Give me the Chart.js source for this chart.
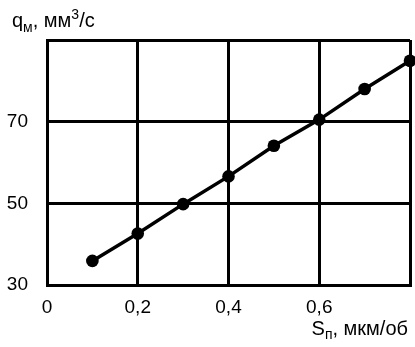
<!DOCTYPE html>
<html>
<head>
<meta charset="utf-8">
<script src="https://cdn.jsdelivr.net/npm/chart.js@4"></script>
<style>
    html, body { margin: 0; padding: 0; background: #fff; overflow: hidden; }
    #feed { display: block; }
</style>
</head>
<body>
<canvas id="feed" width="421" height="347" style="width:421px;height:347px"></canvas>
<script>
const podacha = [0.1, 0.2, 0.3, 0.4, 0.5, 0.6, 0.7, 0.8];
const proizv = [35.9, 42.6, 49.8, 56.6, 64.1, 70.5, 78.0, 84.9];
const xTicks = [0, 0.2, 0.4, 0.6];
const yTicks = [30, 50, 70];

const FONT = "'Liberation Sans', Arial, sans-serif";

// axis titles with sub/superscripts
function partsWidth(ctx, parts) {
    let w = 0;
    for (const p of parts) {
        ctx.font = (p.small ? 14 : 20) + "px " + FONT;
        w += ctx.measureText(p.t).width;
    }
    return w;
}

function drawParts(ctx, x, y, parts) {
    for (const p of parts) {
        ctx.font = (p.small ? 14 : 20) + "px " + FONT;
        ctx.fillText(p.t, x, y + (p.dy || 0));
        x += ctx.measureText(p.t).width;
    }
}

const yTitle = [
    { t: "q" },
    { t: "м", small: true, dy: 5 },
    { t: ", мм" },
    { t: "3", small: true, dy: -8 },
    { t: "/с" },
];
const xTitle = [
    { t: "S" },
    { t: "п", small: true, dy: 4 },
    { t: ", мкм/об" },
];

const titles = {
    id: "titles",
    afterDraw(chart) {
        const ctx = chart.ctx;
        ctx.save();
        ctx.fillStyle = "#000";
        ctx.textBaseline = "alphabetic";
        ctx.textAlign = "left";
        drawParts(ctx, 12, 27, yTitle);
        drawParts(ctx, 408 - partsWidth(ctx, xTitle), 335, xTitle);
        ctx.restore();
    },
};

new Chart(document.getElementById("feed"), {
    type: "line",
    data: {
        datasets: [
            {
                data: podacha.map((x, i) => ({ x: x, y: proizv[i] })),
                borderColor: "#000",
                backgroundColor: "#000",
                borderWidth: 3.5,
                pointRadius: 6.3,
                pointHoverRadius: 6.3,
                pointBorderWidth: 0,
                fill: false,
                tension: 0,
                clip: false,
            },
        ],
    },
    options: {
        responsive: false,
        animation: false,
        events: [],
        layout: {
            padding: { top: 40, right: 3, left: 0, bottom: 0 },
        },
        plugins: {
            legend: { display: false },
            tooltip: { enabled: false },
        },
        scales: {
            x: {
                type: "linear",
                min: 0,
                max: 0.8,
                afterFit: (s) => { s.height = 62; },
                grid: { color: "#000", lineWidth: 3, drawTicks: false },
                border: { color: "#000", width: 3 },
                ticks: {
                    stepSize: 0.2,
                    padding: 11,
                    color: "#000",
                    font: { size: 19, family: FONT },
                    maxRotation: 0,
                    callback: (v) => {
                        const hit = xTicks.find((t) => Math.abs(t - v) < 1e-6);
                        if (hit === undefined) return "";
                        return hit === 0 ? "0" : hit.toFixed(1).replace(".", ",");
                    },
                },
            },
            y: {
                min: 30,
                max: 90,
                afterFit: (s) => { s.width = 47; },
                grid: { color: "#000", lineWidth: 3, drawTicks: false },
                border: { color: "#000", width: 3 },
                ticks: {
                    stepSize: 20,
                    padding: 19,
                    color: "#000",
                    font: { size: 19, family: FONT },
                    callback: (v) => (yTicks.includes(v) ? String(v) : ""),
                },
            },
        },
    },
    plugins: [titles],
});
</script>
</body>
</html>
